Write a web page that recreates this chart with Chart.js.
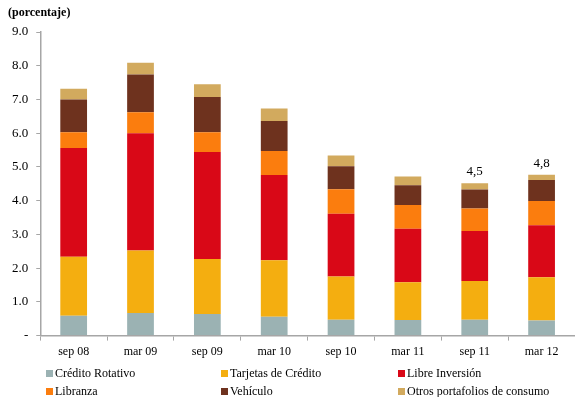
<!DOCTYPE html>
<html>
<head>
<meta charset="utf-8">
<script src="https://cdn.jsdelivr.net/npm/chart.js@4"></script>
<style>
    html, body { margin: 0; padding: 0; background: #fff; }
    #wrap { position: relative; width: 575px; height: 397px; }
    #title {
        position: absolute; left: 8px; top: 5px;
        font: bold 12px "Liberation Serif", "Times New Roman", serif; color: #000;
    }
    .legend {
        position: absolute; display: flex; align-items: center;
        font: 12px "Liberation Serif", "Times New Roman", serif; color: #000;
        white-space: nowrap;
    }
    .legend i { display: inline-block; width: 7px; height: 7px; margin-right: 2px; }
</style>
</head>
<body>
<div id="wrap">
    <canvas id="mainChart" width="575" height="397"></canvas>
    <div id="title">(porcentaje)</div>
    <div id="legend"></div>
</div>
<script>
const periods = ['sep 08', 'mar 09', 'sep 09', 'mar 10', 'sep 10', 'mar 11', 'sep 11', 'mar 12'];

const creditoRotativo = [0.59, 0.67, 0.64, 0.56, 0.47, 0.46, 0.47, 0.45];
const tarjetasCredito = [1.75, 1.85, 1.63, 1.67, 1.28, 1.12, 1.15, 1.28];
const libreInversion  = [3.22, 3.48, 3.17, 2.53, 1.86, 1.59, 1.48, 1.54];
const libranza        = [0.47, 0.62, 0.59, 0.71, 0.73, 0.70, 0.67, 0.72];
const vehiculo        = [0.97, 1.12, 1.04, 0.89, 0.68, 0.59, 0.56, 0.62];
const otrosConsumo    = [0.32, 0.35, 0.38, 0.37, 0.32, 0.26, 0.19, 0.16];

// periodos con el total escrito encima de la barra
const totalLabelIdx = [6, 7];

const seriesDef = [
    { label: 'Crédito Rotativo', data: creditoRotativo, color: '#9bb2b3' },
    { label: 'Tarjetas de Crédito', data: tarjetasCredito, color: '#f4ae10' },
    { label: 'Libre Inversión', data: libreInversion, color: '#d90817' },
    { label: 'Libranza', data: libranza, color: '#fb7d0e' },
    { label: 'Vehículo', data: vehiculo, color: '#6e321e' },
    { label: 'Otros portafolios de consumo', data: otrosConsumo, color: '#d2aa5e' }
];

const serif = '"Liberation Serif", "Times New Roman", serif';
const axisGrey = '#a6a6a6';

const totalLabels = {
    id: 'totalLabels',
    afterDatasetsDraw(chart) {
        const ctx = chart.ctx;
        const y = chart.scales.y;
        const x = chart.scales.x;
        ctx.save();
        ctx.font = '13px ' + serif;
        ctx.fillStyle = '#000';
        ctx.textAlign = 'center';
        ctx.textBaseline = 'bottom';
        totalLabelIdx.forEach(i => {
            const total = seriesDef.reduce((s, d) => s + d.data[i], 0);
            ctx.fillText(total.toFixed(1).replace('.', ','), x.getPixelForValue(i), y.getPixelForValue(total) - 5);
        });
        ctx.restore();
    }
};

const ctx = document.getElementById('mainChart').getContext('2d');
new Chart(ctx, {
    type: 'bar',
    data: {
        labels: periods,
        datasets: seriesDef.map(s => ({
            label: s.label,
            data: s.data,
            backgroundColor: s.color,
            borderWidth: 0,
            barPercentage: 0.4,
            categoryPercentage: 1.0
        }))
    },
    options: {
        responsive: false,
        animation: false,
        layout: { padding: { top: 32, left: 4, right: 0, bottom: 34 } },
        plugins: {
            legend: { display: false },
            tooltip: { enabled: false }
        },
        scales: {
            x: {
                stacked: true,
                grid: { offset: true, drawOnChartArea: false, tickLength: 5, color: axisGrey },
                border: { color: axisGrey, width: 1.5 },
                ticks: { color: '#000', font: { family: serif, size: 12 }, padding: 4, maxRotation: 0 }
            },
            y: {
                stacked: true,
                min: 0,
                max: 9,
                grid: { drawOnChartArea: false, tickLength: 4, color: axisGrey },
                border: { color: axisGrey, width: 1.5 },
                ticks: {
                    stepSize: 1,
                    color: '#000',
                    font: { family: serif, size: 13 },
                    padding: 8,
                    callback: v => v === 0 ? '-' : v.toFixed(1)
                }
            }
        }
    },
    plugins: [totalLabels]
});

// leyenda en tres columnas bajo el gráfico
const legendPos = [[46, 374], [221, 374], [398, 374], [46, 392], [221, 392], [398, 392]];
const legendBox = document.getElementById('legend');
seriesDef.forEach((s, i) => {
    const el = document.createElement('div');
    el.className = 'legend';
    el.style.left = legendPos[i][0] + 'px';
    el.style.top = (legendPos[i][1] - 8) + 'px';
    el.innerHTML = `<i style="background:${s.color}"></i>${s.label}`;
    legendBox.appendChild(el);
});
</script>
</body>
</html>
